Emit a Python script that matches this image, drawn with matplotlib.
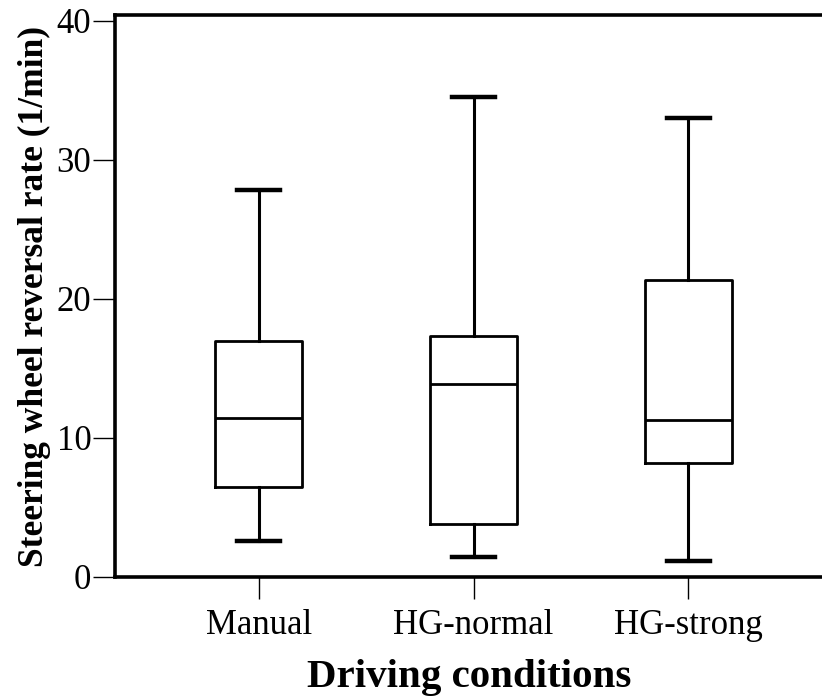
import matplotlib
matplotlib.use("Agg")
import matplotlib.pyplot as plt

categories = ["Manual", "HG-normal", "HG-strong"]
whisker_low = [2.6, 1.45, 1.15]
q1 = [6.5, 3.8, 8.2]
median = [11.4, 13.9, 11.3]
q3 = [17.0, 17.3, 21.35]
whisker_high = [27.8, 34.5, 33.0]
yticks = [0, 10, 20, 30, 40]

plt.rcParams['font.family'] = ['Liberation Serif', 'DejaVu Serif']

fig = plt.figure(figsize=(8.22, 6.96), dpi=100)
ax = fig.add_axes([0.140, 0.171, 0.862, 0.807])

stats = []
for i, c in enumerate(categories):
    stats.append(dict(label=c, whislo=whisker_low[i], q1=q1[i], med=median[i],
                      q3=q3[i], whishi=whisker_high[i], fliers=[]))

lw = 2.0
ax.bxp(stats, positions=[1, 2, 3], widths=0.405, showfliers=False,
       boxprops=dict(color='black', linewidth=lw),
       medianprops=dict(color='black', linewidth=lw),
       whiskerprops=dict(color='black', linewidth=lw * 1.1),
       capprops=dict(color='black', linewidth=lw * 1.6),
       capwidths=0.2)

ax.set_xlim(0.33, 3.63)
ax.set_ylim(0, 40.4)
ax.set_yticks(yticks)
ax.set_yticklabels([str(v) for v in yticks], fontsize=25)
ax.set_xticks([1, 2, 3])
ax.set_xticklabels(categories, fontsize=25)
ax.tick_params(axis='both', direction='out', length=16, width=1.0, color='black')
ax.tick_params(axis='y', pad=1)
ax.tick_params(axis='x', pad=7)

for s in ['left', 'bottom', 'top']:
    ax.spines[s].set_linewidth(2.6)
ax.spines['right'].set_visible(False)

ax.set_ylabel("Steering wheel reversal rate (1/min)", fontsize=25.5, fontweight='bold', labelpad=4)
ax.set_xlabel("Driving conditions", fontsize=29.5, fontweight='bold', labelpad=12)

fig.savefig("out.png", dpi=100)
